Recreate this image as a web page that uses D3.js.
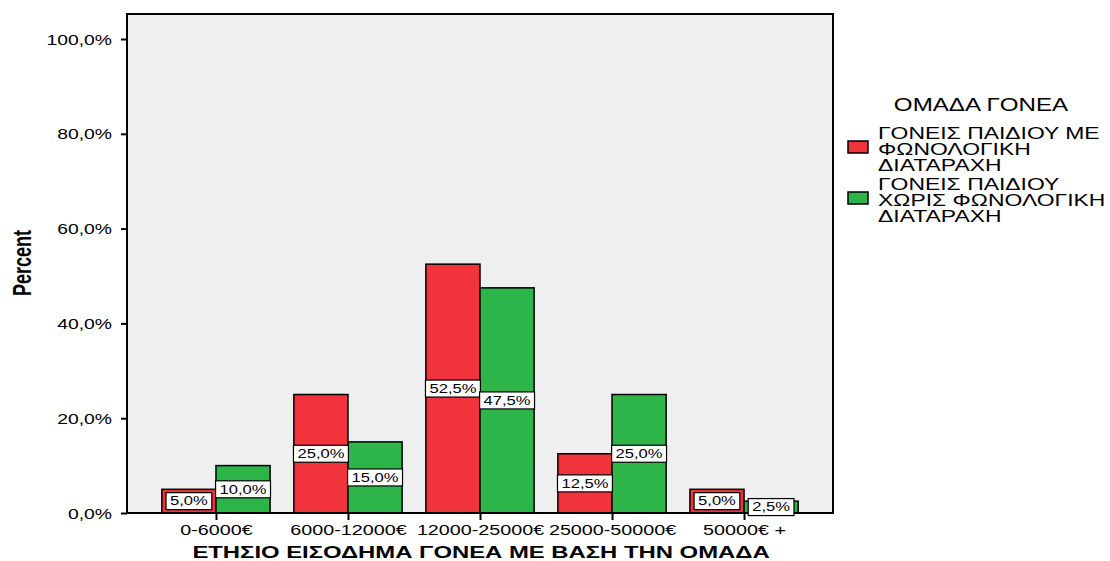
<!DOCTYPE html>
<html>
<head>
<meta charset="utf-8">
<script src="https://cdn.jsdelivr.net/npm/d3@7"></script>
<style>
  html, body { margin: 0; padding: 0; background: #ffffff; }
  svg { display: block; font-family: "Liberation Sans", Arial, sans-serif; }
</style>
</head>
<body>
<svg id="chart" width="1110" height="561"></svg>
<script>
// Income bands of the parents
const categories = ["0-6000€", "6000-12000€", "12000-25000€", "25000-50000€", "50000€ +"];
// Percent of each parent group per income band
const withDisorder = [5.0, 25.0, 52.5, 12.5, 5.0];
const withoutDisorder = [10.0, 15.0, 47.5, 25.0, 2.5];
const seriesKeys = ["with", "without"];
const legendTitle = "ΟΜΑΔΑ ΓΟΝΕΑ";
const legendLines = [
  ["ΓΟΝΕΙΣ ΠΑΙΔΙΟΥ ΜΕ", "ΦΩΝΟΛΟΓΙΚΗ", "ΔΙΑΤΑΡΑΧΗ"],
  ["ΓΟΝΕΙΣ ΠΑΙΔΙΟΥ", "ΧΩΡΙΣ ΦΩΝΟΛΟΓΙΚΗ", "ΔΙΑΤΑΡΑΧΗ"]
];
const yTicks = [0, 20, 40, 60, 80, 100];
const xTitle = "ΕΤΗΣΙΟ ΕΙΣΟΔΗΜΑ ΓΟΝΕΑ ΜΕ ΒΑΣΗ ΤΗΝ ΟΜΑΔΑ";
const yTitle = "Percent";

const colors = { with: "#f1333c", without: "#2eb54a" };
const SX = 1.38; // horizontal stretch applied to all lettering

const svg = d3.select("#chart");
const frame = { left: 127, right: 833, top: 14, bottom: 513 };

const y = d3.scaleLinear().domain([0, 100]).range([frame.bottom, 39]);
const x = d3.scalePoint().domain(categories).range([frame.left, frame.right]).padding(0.674);
const barW = x.step() * 0.41;
const sub = d3.scaleBand().domain(seriesKeys).range([-barW, barW]).paddingInner(0);

const fmt = v => v.toFixed(1).replace(".", ",") + "%";

const rows = categories.map((c, i) => ({ cat: c, with: withDisorder[i], without: withoutDisorder[i] }));

// plot background
svg.append("rect")
  .attr("x", frame.left).attr("y", frame.top)
  .attr("width", frame.right - frame.left).attr("height", frame.bottom - frame.top)
  .attr("fill", "#efefef");

// bars
const groups = svg.append("g").selectAll("g").data(rows).join("g")
  .attr("transform", d => `translate(${x(d.cat)},0)`);
groups.selectAll("rect").data(d => seriesKeys.map(k => ({ key: k, value: d[k] }))).join("rect")
  .attr("x", d => sub(d.key))
  .attr("width", sub.bandwidth())
  .attr("y", d => y(d.value))
  .attr("height", d => y(0) - y(d.value))
  .attr("fill", d => colors[d.key])
  .attr("stroke", "#000").attr("stroke-width", 1.5);

// plot frame
svg.append("rect")
  .attr("x", frame.left).attr("y", frame.top)
  .attr("width", frame.right - frame.left).attr("height", frame.bottom - frame.top)
  .attr("fill", "none").attr("stroke", "#000").attr("stroke-width", 2);

// y axis
const yAxis = svg.append("g").attr("transform", `translate(${frame.left},0)`)
  .call(d3.axisLeft(y).tickValues(yTicks).tickSize(6).tickFormat(fmt));
yAxis.select(".domain").remove();
yAxis.selectAll("line").attr("stroke", "#000").attr("stroke-width", 2);
yAxis.selectAll("text")
  .attr("x", 0).attr("dy", "0.36em")
  .attr("transform", `translate(-15,0) scale(${SX},1)`)
  .attr("font-size", 14).attr("font-family", "Liberation Sans, Arial, sans-serif").attr("fill", "#000");

// x axis
const xAxis = svg.append("g").attr("transform", `translate(0,${frame.bottom})`)
  .call(d3.axisBottom(x).tickSize(7).tickPadding(0));
xAxis.select(".domain").remove();
xAxis.selectAll("line").attr("stroke", "#000").attr("stroke-width", 2);
xAxis.selectAll("text")
  .attr("y", 0).attr("dy", "0")
  .attr("transform", `translate(0,22) scale(${SX},1)`)
  .attr("font-size", 14.3).attr("font-family", "Liberation Sans, Arial, sans-serif").attr("fill", "#000");

// value labels in boxes at the middle of each bar
const labels = svg.append("g").selectAll("g").data(rows.flatMap(d => seriesKeys.map(k => ({ cat: d.cat, key: k, value: d[k] })))).join("g")
  .attr("transform", d => `translate(${x(d.cat) + sub(d.key) + sub.bandwidth() / 2},${(y(d.value) + y(0)) / 2})`);
labels.each(function(d) {
  const g = d3.select(this);
  const rect = g.append("rect").attr("fill", "#fff").attr("stroke", "#000").attr("stroke-width", 1.2);
  const t = g.append("text")
    .attr("text-anchor", "middle").attr("dy", "0.36em")
    .attr("transform", `scale(${SX},1)`)
    .attr("font-size", 12).attr("fill", "#000")
    .text(fmt(d.value));
  const w = t.node().getComputedTextLength() * SX + 8;
  rect.attr("x", -w / 2).attr("y", -8.5).attr("width", w).attr("height", 17);
});

// axis titles
svg.append("text")
  .attr("transform", `translate(481,558) scale(${SX},1)`)
  .attr("text-anchor", "middle").attr("font-size", 17.3).attr("font-weight", "bold")
  .text(xTitle);
svg.append("text")
  .attr("transform", `translate(31,263) scale(${SX},1) rotate(-90)`)
  .attr("text-anchor", "middle").attr("font-size", 18).attr("font-weight", "bold")
  .attr("font-family", "Liberation Sans Narrow, Liberation Sans, Arial, sans-serif")
  .text(yTitle);

// legend
const legend = svg.append("g");
legend.append("text")
  .attr("transform", `translate(981,111) scale(${SX},1)`)
  .attr("text-anchor", "middle").attr("font-size", 17.5)
  .text(legendTitle);
const itemTops = [139, 190];
seriesKeys.forEach((k, i) => {
  const base = itemTops[i];
  legend.append("rect")
    .attr("x", 848).attr("y", base + 2).attr("width", 20).attr("height", 12)
    .attr("fill", colors[k]).attr("stroke", "#000").attr("stroke-width", 1.5);
  legendLines[i].forEach((line, j) => {
    legend.append("text")
      .attr("transform", `translate(878,${base + j * 16}) scale(${SX},1)`)
      .attr("font-size", 16.6)
      .text(line);
  });
});
</script>
</body>
</html>
